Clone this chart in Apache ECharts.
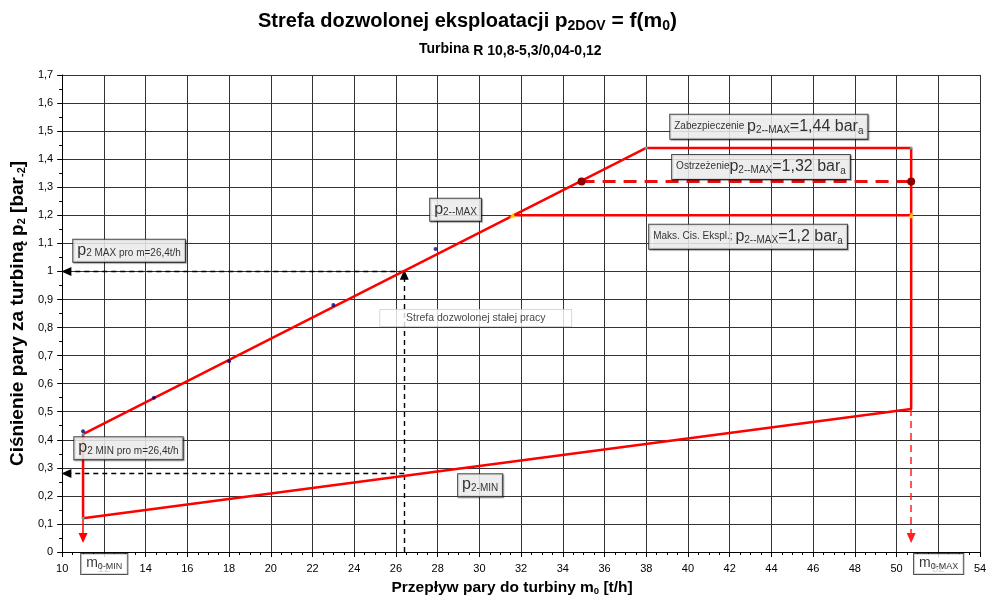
<!DOCTYPE html>
<html><head><meta charset="utf-8">
<script src="https://cdn.jsdelivr.net/npm/echarts@6/dist/echarts.min.js"></script>
<style>html,body{margin:0;padding:0;background:#fff}#c{width:994px;height:601px}</style>
</head><body><div id="c"></div>
<script>
// ---- data ----
const boundary = [[11,0.42],[38,1.44],[50.7,1.44],[50.7,0.51],[11,0.12],[11,0.42]];
const maxOperating = [[31.6,1.2],[50.7,1.2]];
const warning = [[34.9,1.32],[50.7,1.32]];
const measured = [[11,0.43],[14.4,0.55],[18,0.68],[23,0.88],[27.9,1.08]];
const cornerMarks = [[11,0.42],[11,0.12],[38,1.44],[50.7,1.44]];
const yellowMarks = [[31.6,1.2],[50.7,1.2]];
const designFlow = 26.4;
const p2MaxAtDesign = 1.0;
const p2MinAtDesign = 0.28;
const mMin = 11, mMax = 50.7;
const pMinAtMin = 0.12, pMinAtMax = 0.51;
const arrowEnd = 0.05;
const xMin = 10, xMax = 54, xStep = 2;
const yMin = 0, yMax = 1.7, yStep = 0.1;

// ---- annotation texts (anchor = top-left corner in data units) ----
const notes = [
  {at:[10.53,1.113], text:'{P|p}{S|2 MAX pro m=26,4t/h}', kind:'box'},
  {at:[10.58,0.409], text:'{P|p}{S|2 MIN pro m=26,4t/h}', kind:'box'},
  {at:[27.64,1.259], text:'{P|p}{S|2--MAX}', kind:'box'},
  {at:[28.98,0.277], text:'{P|p}{S|2-MIN}', kind:'box'},
  {at:[25.24,0.864], text:'{T2|Strefa dozwolonej stałej pracy}', kind:'plain'},
  {at:[39.15,1.558], text:'{T|Zabezpieczenie }{P|p}{S|2--MAX}{P|=1,44 bar}{A|a}', kind:'box'},
  {at:[39.24,1.415], text:'{T|Ostrzeżenie}{P|p}{S|2--MAX}{P|=1,32 bar}{A|a}', kind:'box'},
  {at:[38.14,1.166], text:'{T|Maks. Cis. Ekspl.; }{P|p}{S|2--MAX}{P|=1,2 bar}{A|a}', kind:'box'},
  {at:[10.91,0], text:'{M|m}{S2|0-MIN}', kind:'axisbox'},
  {at:[50.84,0], text:'{M|m}{S2|0-MAX}', kind:'axisbox'}
];

const FF = 'Liberation Sans, Arial, Helvetica, sans-serif';
const rich = {
  P:{fontSize:16, fontFamily:FF, color:'#000'},
  S:{fontSize:10, fontFamily:FF, color:'#000', padding:[7,0,0,0]},
  A:{fontSize:10, fontFamily:FF, color:'#000', padding:[9,0,0,0]},
  T:{fontSize:10, fontFamily:FF, color:'#000'},
  T2:{fontSize:10.5, fontFamily:FF, color:'#111'},
  M:{fontSize:14, fontFamily:FF, color:'#000'},
  S2:{fontSize:9, fontFamily:FF, color:'#000', padding:[6,0,0,0]}
};
function noteLabel(n){
  const base = {show:true, position:[0,0], align:'left', verticalAlign:'top',
    formatter:n.text, rich:rich, backgroundColor:'#fff', color:'#000'};
  if (n.kind==='box') Object.assign(base,{borderColor:'#222', borderWidth:1, padding:[2,4,3,4],
    shadowColor:'rgba(0,0,0,0.45)', shadowOffsetX:1, shadowOffsetY:1, shadowBlur:1});
  if (n.kind==='plain') Object.assign(base,{padding:[3,26,3,26], borderColor:'#aaa', borderWidth:0.5});
  if (n.kind==='axisbox') Object.assign(base,{borderColor:'#222', borderWidth:1, padding:[2,5,3,5], offset:[0,2]});
  return base;
}

const blackDash = {color:'#000', width:1.4, type:[5,4]};
const arrows = [
  [{coord:[designFlow,0]},{coord:[designFlow,p2MaxAtDesign-0.012]}, blackDash],
  [{coord:[designFlow,p2MaxAtDesign]},{coord:[xMin+0.2,p2MaxAtDesign]}, blackDash],
  [{coord:[designFlow,p2MinAtDesign]},{coord:[xMin+0.2,p2MinAtDesign]}, blackDash],
  [{coord:[mMin,pMinAtMin]},{coord:[mMin,arrowEnd]}, {color:'#ff0000', width:1.5, type:'solid'}],
  [{coord:[mMax,pMinAtMax]},{coord:[mMax,arrowEnd]}, {color:'#ff2020', width:1.5, type:[7,5]}]
];

const chart = echarts.init(document.getElementById('c'), null, {renderer:'canvas'});
const option = {
  animation:false,
  backgroundColor:'#fff',
  title:[
    {text:'{a|Strefa dozwolonej eksploatacji }{b|p}{c|2DOV}{b| = f(m}{c|0}{b|)}', left:253, top:5,
     textStyle:{rich:{a:{fontSize:20,fontWeight:'bold',fontFamily:FF,color:'#000'},
       b:{fontSize:21,fontWeight:'bold',fontFamily:FF,color:'#000'},
       c:{fontSize:14,fontWeight:'bold',fontFamily:FF,color:'#000',padding:[9,0,0,0]}}}},
    {text:'{a|Turbina }{b|R 10,8-5,3/0,04-0,12}', left:414, top:35,
     textStyle:{rich:{a:{fontSize:14,fontWeight:'bold',fontFamily:FF,color:'#000'},
       b:{fontSize:14,fontWeight:'bold',fontFamily:FF,color:'#000',padding:[4,0,0,0]}}}}
  ],
  grid:{left:62, right:14, top:75, bottom:48, containLabel:false},
  xAxis:{type:'value', min:xMin, max:xMax, interval:xStep,
    name:'{a|Przepływ pary do turbiny m}{s|0}{a| [t/h]}', nameLocation:'middle', nameGap:27,
    nameTextStyle:{padding:[0,18,0,0], rich:{a:{fontSize:15.5,fontWeight:'bold',fontFamily:FF,color:'#000'},
      s:{fontSize:9.5,fontWeight:'bold',fontFamily:FF,color:'#000',padding:[7,0,0,0]}}},
    axisLine:{show:true, onZero:false, lineStyle:{color:'#000', width:1}},
    axisTick:{show:true, inside:false, length:5, lineStyle:{color:'#000'}},
    minorTick:{show:true, splitNumber:4, length:3, lineStyle:{color:'#000'}},
    axisLabel:{fontSize:11, fontFamily:FF, color:'#000', margin:11},
    splitLine:{show:true, lineStyle:{color:'#333', width:1}}
  },
  yAxis:{type:'value', min:yMin, max:yMax, interval:yStep,
    name:'{a|Ciśnienie pary za turbiną p}{s|2}{a| [bar}{s|-2}{a|]}', nameLocation:'middle', nameGap:34,
    nameTextStyle:{rich:{a:{fontSize:19,fontWeight:'bold',fontFamily:FF,color:'#000'},
      s:{fontSize:11,fontWeight:'bold',fontFamily:FF,color:'#000',padding:[8,0,0,0]}}},
    axisLine:{show:true, onZero:false, lineStyle:{color:'#000', width:1}},
    axisTick:{show:true, inside:false, length:5, lineStyle:{color:'#000'}},
    minorTick:{show:true, splitNumber:2, length:3, lineStyle:{color:'#000'}},
    axisLabel:{fontSize:11, fontFamily:FF, color:'#000', margin:9,
      formatter:v => String(Math.round(v*10)/10).replace('.',',')},
    splitLine:{show:true, lineStyle:{color:'#333', width:1}}
  },
  series:[
    {type:'line', name:'arrows', data:[], silent:true, z:4,
     markLine:{silent:true, animation:false, label:{show:false},
       data: arrows.map(a => [
         Object.assign({symbol:'none', lineStyle:a[2]}, a[0]),
         Object.assign({symbol:'triangle', symbolSize:[9,10], lineStyle:a[2], itemStyle:{color:a[2].color}}, a[1])])
     }},
    {type:'line', name:'boundary', data:boundary, symbol:'none', z:5,
     lineStyle:{color:'#ff0000', width:2.5}},
    {type:'line', name:'maxOperating', data:maxOperating, symbol:'none', z:5,
     lineStyle:{color:'#ff0000', width:2.5}},
    {type:'line', name:'warning', data:warning, symbol:'circle', symbolSize:8, showSymbol:true, z:6,
     lineStyle:{color:'#e81010', width:3, type:[13,8]}, itemStyle:{color:'#8b0000'}},
    {type:'scatter', name:'measured', data:measured, symbolSize:4, z:6, itemStyle:{color:'#000080'}},
    {type:'scatter', name:'corners', data:cornerMarks, symbolSize:3, z:7, itemStyle:{color:'#33cccc'}},
    {type:'scatter', name:'yellow', data:yellowMarks, symbol:'triangle', symbolSize:6, z:7, itemStyle:{color:'#ffee00'}},
    {type:'scatter', name:'notes', symbolSize:0, clip:false, silent:true, z:20,
     data: notes.map(n => ({value:n.at, label:noteLabel(n)}))}
  ]
};
chart.setOption(option);
</script></body></html>
